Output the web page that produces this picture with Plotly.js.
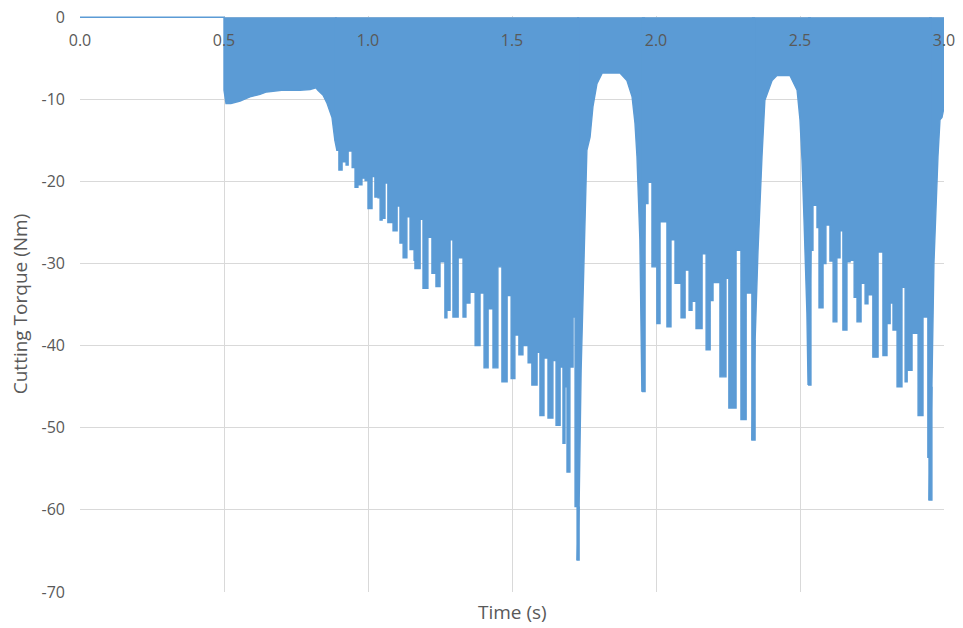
<!DOCTYPE html>
<html>
<head>
<meta charset="utf-8">
<script src="https://cdn.plot.ly/plotly-3.0.1.min.js"></script>
<style>
  html, body { margin: 0; padding: 0; background: #ffffff; }
  #chart { width: 963px; height: 628px; }
</style>
</head>
<body>
<div id="chart"></div>
<script>
// Cutting torque trace (lower envelope of the oscillating signal), time in seconds
const timeSec = [
  0.000, 0.500, 0.500, 0.507, 0.524, 0.538, 0.556, 0.590, 0.625, 0.648,
  0.700, 0.764, 0.799, 0.819, 0.826, 0.844, 0.858, 0.875, 0.885, 0.892,
  0.899, 0.910, 0.924, 0.931, 0.945, 0.955, 0.965, 0.979, 0.990, 1.000,
  1.014, 1.024, 1.035, 1.042, 1.049, 1.059, 1.069, 1.087, 1.101, 1.111,
  1.122, 1.135, 1.146, 1.160, 1.163, 1.181, 1.191, 1.208, 1.222, 1.236,
  1.250, 1.267, 1.274, 1.285, 1.295, 1.313, 1.330, 1.340, 1.354, 1.372,
  1.389, 1.403, 1.417, 1.434, 1.451, 1.465, 1.483, 1.497, 1.510, 1.524,
  1.538, 1.556, 1.569, 1.587, 1.597, 1.611, 1.625, 1.642, 1.653, 1.667,
  1.677, 1.684, 1.691, 1.701, 1.712, 1.719, 1.726, 1.733, 1.740, 1.747,
  1.753, 1.760, 1.771, 1.781, 1.795, 1.813, 1.875, 1.899, 1.917, 1.927,
  1.934, 1.944, 1.951, 1.962, 1.972, 1.986, 2.003, 2.014, 2.038, 2.052,
  2.066, 2.087, 2.101, 2.115, 2.125, 2.139, 2.160, 2.174, 2.188, 2.198,
  2.222, 2.243, 2.253, 2.278, 2.295, 2.313, 2.333, 2.344, 2.354, 2.368,
  2.378, 2.403, 2.420, 2.465, 2.490, 2.500, 2.507, 2.514, 2.524, 2.528,
  2.538, 2.545, 2.559, 2.566, 2.580, 2.590, 2.604, 2.615, 2.628, 2.639,
  2.649, 2.663, 2.674, 2.688, 2.698, 2.712, 2.726, 2.736, 2.753, 2.771,
  2.788, 2.802, 2.813, 2.823, 2.837, 2.854, 2.865, 2.872, 2.889, 2.896,
  2.910, 2.927, 2.938, 2.944, 2.948, 2.958, 2.965, 2.972, 2.979, 2.986,
  2.993, 3.000
];
const torqueNm = [
  0.0, 0.0, -8.9, -10.5, -10.5, -10.4, -10.2, -9.7, -9.4, -9.1,
  -8.9, -8.9, -8.8, -8.6, -8.9, -9.5, -10.5, -12.2, -15.0, -16.2,
  -18.6, -17.6, -18.0, -16.3, -18.3, -20.7, -20.4, -19.6, -19.9, -23.3,
  -19.4, -21.9, -22.0, -24.7, -24.5, -20.2, -25.0, -26.0, -23.0, -27.5,
  -29.3, -24.3, -28.3, -29.6, -30.6, -24.6, -33.0, -26.8, -31.2, -32.8,
  -29.8, -36.6, -35.7, -27.1, -36.5, -29.3, -36.5, -34.8, -33.5, -40.0,
  -33.6, -42.7, -35.5, -42.7, -30.4, -44.4, -33.9, -44.0, -38.7, -41.1,
  -40.0, -42.1, -44.8, -40.8, -48.5, -41.5, -48.8, -41.8, -49.7, -42.6,
  -51.9, -45.0, -55.4, -42.6, -36.5, -59.6, -66.1, -59.6, -43.0, -32.8,
  -23.0, -16.2, -14.6, -10.9, -8.1, -6.8, -6.8, -7.7, -9.7, -12.9,
  -17.0, -27.1, -45.6, -22.7, -20.1, -30.4, -37.3, -24.9, -37.7, -27.1,
  -32.4, -36.6, -30.8, -35.7, -34.6, -37.9, -28.8, -40.5, -34.5, -32.3,
  -43.8, -31.8, -47.6, -28.4, -49.0, -33.6, -51.5, -39.3, -28.6, -17.0,
  -10.1, -7.7, -7.1, -7.1, -8.9, -12.5, -17.4, -24.7, -36.0, -44.8,
  -28.4, -22.9, -25.6, -35.4, -30.0, -25.3, -29.7, -37.1, -29.3, -26.0,
  -38.1, -29.8, -29.6, -34.1, -37.1, -32.4, -34.9, -33.8, -41.4, -28.6,
  -41.2, -37.3, -34.8, -38.1, -45.0, -32.9, -44.4, -43.0, -38.5, -38.5,
  -48.5, -36.5, -36.5, -53.6, -58.8, -45.0, -30.0, -23.0, -17.0, -12.5,
  -12.2, -11.0
];

// Time spans where the envelope is smooth (drawn linear) versus chattering (drawn stepped).
// Neighbouring spans share one sample so the fills overlap without a seam.
const smoothSpans = [[0.000, 0.892], [1.726, 1.962], [2.333, 2.538], [2.948, 3.000]];
const chatterSpans = [[0.885, 1.733], [1.951, 2.344], [2.528, 2.958]];

// Axis ticks
const xTickVals = [0, 0.5, 1.0, 1.5, 2.0, 2.5, 3.0];
const xTickText = ['0.0', '0.5', '1.0', '1.5', '2.0', '2.5', '3.0'];
const yTickVals = [0, -10, -20, -30, -40, -50, -60, -70];
const yTickText = ['0', '-10', '-20', '-30', '-40', '-50', '-60', '-70'];

const seriesBlue = '#5B9BD5';
const gridGrey = '#D9D9D9';
const labelGrey = '#595959';
const fontFamily = 'Open Sans, sans-serif';

function span(t0, t1) {
  const x = [], y = [];
  for (let i = 0; i < timeSec.length; i++) {
    if (timeSec[i] >= t0 - 1e-9 && timeSec[i] <= t1 + 1e-9) {
      x.push(timeSec[i]);
      y.push(torqueNm[i]);
    }
  }
  return { x, y };
}

function segmentTrace(s, shape) {
  const d = span(s[0], s[1]);
  return {
    type: 'scatter',
    mode: 'lines',
    x: d.x,
    y: d.y,
    line: { color: seriesBlue, width: 1.4, shape: shape },
    fill: 'tozeroy',
    fillcolor: seriesBlue,
    hoverinfo: 'skip',
    showlegend: false
  };
}

const traces = smoothSpans.map(s => segmentTrace(s, 'linear'))
  .concat(chatterSpans.map(s => segmentTrace(s, 'hv')));

const layout = {
  width: 963,
  height: 628,
  margin: { l: 80, r: 19, t: 16, b: 36, pad: 0 },
  paper_bgcolor: '#ffffff',
  plot_bgcolor: '#ffffff',
  showlegend: false,
  font: { family: fontFamily, color: labelGrey, size: 16 },
  xaxis: {
    range: [0, 3],
    anchor: 'free',
    position: 0.977,
    side: 'bottom',
    tickvals: xTickVals,
    ticktext: xTickText,
    ticks: '',
    showline: false,
    zeroline: false,
    showgrid: true,
    gridcolor: gridGrey,
    gridwidth: 1,
    tickfont: { family: fontFamily, color: labelGrey, size: 16 },
    fixedrange: true
  },
  yaxis: {
    range: [-70, 0.15],
    tickvals: yTickVals,
    ticktext: yTickText,
    ticks: '',
    ticklabelstandoff: 14,
    showline: false,
    zeroline: false,
    showgrid: true,
    gridcolor: gridGrey,
    gridwidth: 1,
    tickfont: { family: fontFamily, color: labelGrey, size: 16 },
    title: { text: 'Cutting Torque (Nm)', font: { family: fontFamily, color: labelGrey, size: 19 }, standoff: 8 },
    fixedrange: true
  },
  annotations: [{
    text: 'Time (s)',
    xref: 'paper', yref: 'paper',
    x: 0.5, y: 0,
    xanchor: 'center', yanchor: 'top',
    yshift: -5,
    showarrow: false,
    font: { family: fontFamily, color: labelGrey, size: 19 }
  }]
};

Plotly.newPlot('chart', traces, layout, { displayModeBar: false, staticPlot: true });
</script>
</body>
</html>
